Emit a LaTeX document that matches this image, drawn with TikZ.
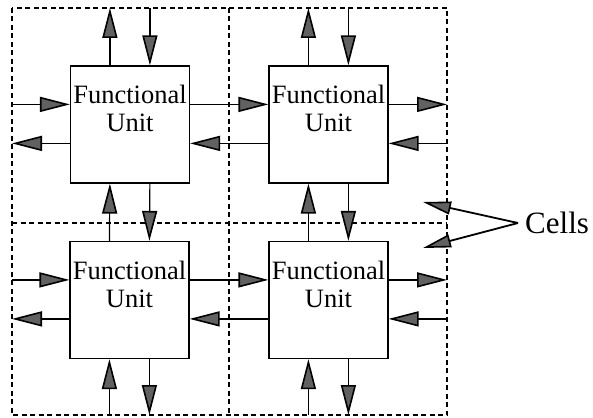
\documentclass[tikz,border=0pt]{standalone}
\usepackage{fontspec}
\setmainfont{Liberation Serif}
\usetikzlibrary{arrows.meta}
\begin{document}
\begin{tikzpicture}[x=1pt,y=-1pt,
  unitbox/.style={draw, line width=1.2pt, minimum width=119pt, minimum height=117pt, inner sep=0pt},
  unittext/.style={anchor=north, inner sep=0pt, align=center, font=\fontsize{26.5}{28}\selectfont},
  cellframe/.style={line width=1.1pt, dash pattern=on 5pt off 3.5pt},
  flow/.style={line width=1.2pt, -{Triangle[length=30pt,width=15pt,line width=1.6pt,fill=black!62]}},
  pointer/.style={line width=1.8pt, -{Triangle[length=28pt,width=13pt,line width=1.6pt,fill=black!62]}}]
  \useasboundingbox (0,0) rectangle (593,417);

  % cell boundaries
  \coordinate (F1) at (12,8);
  \coordinate (F2) at (447,415);
  \coordinate (M) at (229,223);
  \draw[cellframe] (F1) rectangle (F2);
  \draw[cellframe] (M |- F1) -- (M |- F2);
  \draw[cellframe] (M -| F1) -- (M -| F2);

  % functional units
  \node[unitbox] (A) at (130,124.5) {};
  \node[unitbox] (B) at (328.5,124.5) {};
  \node[unitbox] (C) at (129.5,300) {};
  \node[unitbox] (D) at (328.5,300) {};
  \foreach \b in {A,B,C,D} {
    \node[unittext] (\b txt) at ([yshift=-20pt]\b.north) {Functional\\Unit};
    \coordinate (\b n1) at ([xshift=40pt]\b.north west);
    \coordinate (\b n2) at ([xshift=80pt]\b.north west);
    \coordinate (\b s1) at ([xshift=40pt]\b.south west);
    \coordinate (\b s2) at ([xshift=80pt]\b.south west);
    \coordinate (\b w1) at ([yshift=-39pt]\b.north west);
    \coordinate (\b w2) at ([yshift=-78pt]\b.north west);
    \coordinate (\b e1) at ([yshift=-39pt]\b.north east);
    \coordinate (\b e2) at ([yshift=-78pt]\b.north east);
  }

  % links across the top edge
  \foreach \b in {A,B} {
    \draw[flow] (\b n1) -- (\b n1 |- F1);
    \draw[flow] (\b n2 |- F1) -- (\b n2);
  }
  % links across the bottom edge
  \foreach \b in {C,D} {
    \draw[flow] (\b s1 |- F2) -- (\b s1);
    \draw[flow] (\b s2) -- (\b s2 |- F2);
  }
  % links across the left edge
  \foreach \b in {A,C} {
    \draw[flow] (\b w1 -| F1) -- (\b w1);
    \draw[flow] (\b w2) -- (\b w2 -| F1);
  }
  % links across the right edge
  \foreach \b in {B,D} {
    \draw[flow] (\b e1) -- (\b e1 -| F2);
    \draw[flow] (\b e2 -| F2) -- (\b e2);
  }
  % links between neighbouring units
  \draw[flow] (Ae1) -- (Bw1);
  \draw[flow] (Bw2) -- (Ae2);
  \draw[flow] (Ce1) -- (Dw1);
  \draw[flow] (Dw2) -- (Ce2);
  \draw[flow] (Cn1) -- (As1);
  \draw[flow] (As2) -- (Cn2);
  \draw[flow] (Dn1) -- (Bs1);
  \draw[flow] (Bs2) -- (Dn2);

  % label for the cells
  \node[anchor=west, inner sep=0pt, font=\fontsize{31}{31}\selectfont] (cells) at (525,223) {Cells};
  \coordinate (cp) at (518,223);
  \coordinate (c1) at (423,202);
  \coordinate (c2) at (423,248);
  \draw[pointer] (cp) -- (c1);
  \draw[pointer] (cp) -- (c2);
\end{tikzpicture}
\end{document}
